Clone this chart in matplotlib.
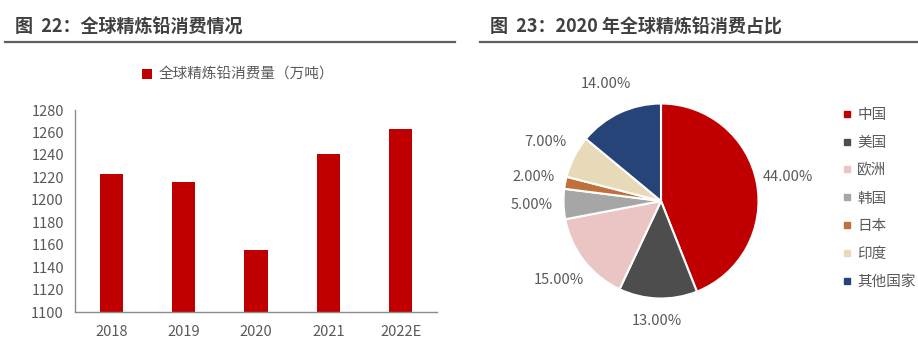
import matplotlib.pyplot as plt
from matplotlib.lines import Line2D

plt.rcParams['font.family'] = ['Noto Sans CJK SC', 'DejaVu Sans']

# left chart data
years = ["2018", "2019", "2020", "2021", "2022E"]
consumption = [1223, 1216, 1155, 1241, 1263]

# right chart data
regions = ["中国", "美国", "欧洲", "韩国", "日本", "印度", "其他国家"]
shares = [44, 13, 15, 5, 2, 7, 14]
region_colors = ["#C00000", "#4D4D4D", "#EBC4C4", "#A6A6A6", "#C0703A", "#E8D9B8", "#264478"]

W, H = 918, 343
fig = plt.figure(figsize=(W / 100, H / 100), dpi=100)

def fx(px):
    return px / W

def fy(py):
    return 1 - py / H

title_color = "#404040"
text_color = "#595959"

# titles and underlines
fig.text(fx(15), fy(27), "图  22：全球精炼铅消费情况", fontsize=13, fontweight="bold",
         color=title_color, va="center", ha="left")
fig.text(fx(490), fy(27), "图  23：2020 年全球精炼铅消费占比", fontsize=13, fontweight="bold",
         color=title_color, va="center", ha="left")
fig.add_artist(Line2D([fx(5), fx(455)], [fy(42), fy(42)], color="#606060", lw=1.6))
fig.add_artist(Line2D([fx(480), fx(918)], [fy(42), fy(42)], color="#606060", lw=1.6))

# bar chart
ax = fig.add_axes([fx(75), fy(312), fx(437 - 75), (312 - 110) / H])
ax.bar(years, consumption, width=0.32, color="#C00000", label="全球精炼铅消费量（万吨）")
ax.set_ylim(1100, 1280)
ax.set_yticks(range(1100, 1281, 20))
ax.set_xlim(-0.5, 4.5)
for side in ["top", "right"]:
    ax.spines[side].set_visible(False)
for side in ["left", "bottom"]:
    ax.spines[side].set_color("#8C8C8C")
    ax.spines[side].set_linewidth(1.0)
ax.tick_params(length=0, labelsize=10.5, labelcolor=text_color)
ax.tick_params(axis="x", pad=9)
ax.tick_params(axis="y", pad=8)
ax.legend(loc="center", bbox_to_anchor=(fx(238), fy(75)), bbox_transform=fig.transFigure,
          frameon=False, fontsize=10.5, labelcolor=text_color, handlelength=0.7,
          handleheight=0.7, handletextpad=0.4)

# pie chart
R = 97.5
cx, cy = 661, 201
side = 260
pax = fig.add_axes([fx(cx - side / 2), fy(cy + side / 2), fx(side), side / H])
L = side / 2 / R
wedges, texts, autotexts = pax.pie(
    shares, colors=region_colors, startangle=90, counterclock=False,
    autopct="%.2f%%", pctdistance=1.33,
    wedgeprops=dict(edgecolor="white", linewidth=1.5),
    textprops=dict(fontsize=10.5, color=text_color))
autotexts[1].set_y(autotexts[1].get_position()[1] + 0.1)
pax.set_xlim(-L, L)
pax.set_ylim(-L, L)
pax.set_aspect("equal")
pax.axis("off")

handles = [Line2D([], [], marker="s", linestyle="", markersize=5, color=c) for c in region_colors]
fig.legend(handles, regions, loc="upper left", bbox_to_anchor=(fx(834), fy(102)),
           frameon=False, fontsize=10.5, labelcolor=text_color, handletextpad=0.2,
           labelspacing=0.95, handlelength=1.0, borderaxespad=0)

fig.savefig("out.png", dpi=100)
